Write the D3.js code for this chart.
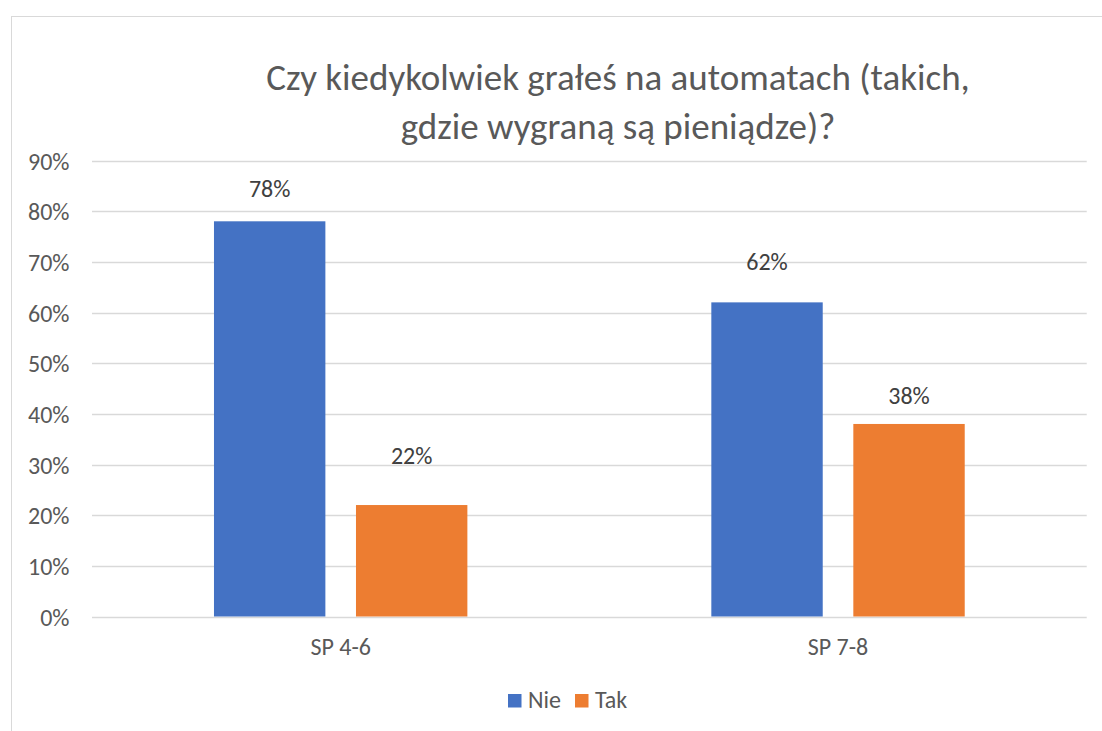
<!DOCTYPE html>
<html>
<head>
<meta charset="utf-8">
<script src="https://cdn.jsdelivr.net/npm/d3@7/dist/d3.min.js"></script>
<style>
  html, body { margin: 0; padding: 0; background: #ffffff; }
  svg { display: block; font-family: Carlito, Lato, "Liberation Sans", sans-serif; }
</style>
</head>
<body>
<svg id="chart" width="1102" height="731"></svg>
<script>
// Survey answers per school level
const categories = ["SP 4-6", "SP 7-8"];
const seriesNames = ["Nie", "Tak"];
const nieValues = [0.78, 0.62];
const takValues = [0.22, 0.38];
const yTicks = [0, 0.1, 0.2, 0.3, 0.4, 0.5, 0.6, 0.7, 0.8, 0.9];
const titleLines = ["Czy kiedykolwiek grałeś na automatach (takich,", "gdzie wygraną są pieniądze)?"];

// Layout
const colors = { Nie: "#4472C4", Tak: "#ED7D31" };
const plot = { left: 92, right: 1086.7, top: 160.5, bottom: 616.5 };
// Vertical lift of each value label above its bar (per category, per series)
const labelLift = { Nie: [24, 32], Tak: [41, 20] };
const labelSize = "24px";

const svg = d3.select("#chart");

// Chart frame
svg.append("rect")
  .attr("x", 11.5).attr("y", 16.5)
  .attr("width", 1200).attr("height", 800)
  .attr("fill", "#ffffff")
  .attr("stroke", "#d9d9d9").attr("stroke-width", 1);

const y = d3.scaleLinear().domain([0, 0.9]).range([plot.bottom, plot.top]);
const x0 = d3.scaleBand().domain(categories).range([plot.left, plot.right]).padding(0);
const x1 = d3.scaleBand().domain(seriesNames).range([0, x0.bandwidth()])
  .paddingInner(0.2155).paddingOuter(0.859);

// Gridlines
svg.append("g")
  .selectAll("line")
  .data(yTicks)
  .join("line")
  .attr("x1", plot.left).attr("x2", plot.right)
  .attr("y1", d => Math.round(y(d)) + 0.5).attr("y2", d => Math.round(y(d)) + 0.5)
  .attr("stroke", "#d9d9d9").attr("stroke-width", 1.3);

// Y axis labels
const yAxis = d3.axisLeft(y).tickValues(yTicks).tickFormat(d3.format(".0%")).tickSize(0).tickPadding(0);
const yg = svg.append("g").attr("transform", "translate(69.5,0)").call(yAxis);
yg.select(".domain").remove();
yg.selectAll("text")
  .attr("fill", "#595959")
  .style("font-size", labelSize)
  .style("font-family", "Carlito, Lato, sans-serif")
  .attr("dy", "0.36em");

// Category axis labels
const xAxis = d3.axisBottom(x0).tickSize(0).tickPadding(0);
const xg = svg.append("g").attr("transform", `translate(0,${plot.bottom})`).call(xAxis);
xg.select(".domain").remove();
xg.selectAll("text")
  .attr("fill", "#595959")
  .attr("dy", null)
  .attr("y", 38.5)
  .style("font-size", labelSize)
  .style("font-family", "Carlito, Lato, sans-serif");

// Bars and value labels
const rows = categories.map((c, i) => ({ category: c, Nie: nieValues[i], Tak: takValues[i], idx: i }));
const groups = svg.append("g").selectAll("g")
  .data(rows)
  .join("g")
  .attr("transform", d => `translate(${x0(d.category)},0)`);

const cells = groups.selectAll("g")
  .data(d => seriesNames.map(s => ({ series: s, value: d[s], idx: d.idx })))
  .join("g");

cells.append("rect")
  .attr("x", d => x1(d.series))
  .attr("width", x1.bandwidth())
  .attr("y", d => y(d.value))
  .attr("height", d => y(0) - y(d.value))
  .attr("fill", d => colors[d.series]);

cells.append("text")
  .attr("x", d => x1(d.series) + x1.bandwidth() / 2)
  .attr("y", d => y(d.value) - labelLift[d.series][d.idx])
  .attr("text-anchor", "middle")
  .attr("fill", "#404040")
  .style("font-size", labelSize)
  .text(d => d3.format(".0%")(d.value));

// Title
svg.append("text")
  .attr("text-anchor", "middle")
  .attr("fill", "#595959")
  .style("font-size", "37px")
  .selectAll("tspan")
  .data(titleLines)
  .join("tspan")
  .attr("x", 618)
  .attr("y", (d, i) => 90 + i * 49)
  .text(d => d);

// Legend
const legend = svg.append("g").attr("transform", "translate(508,694)");
const legendItems = legend.selectAll("g")
  .data(seriesNames)
  .join("g")
  .attr("transform", (d, i) => `translate(${i * 67},0)`);
legendItems.append("rect")
  .attr("width", 13.5).attr("height", 13.5)
  .attr("fill", d => colors[d]);
legendItems.append("text")
  .attr("x", 20).attr("y", 13.5)
  .attr("fill", "#595959")
  .style("font-size", labelSize)
  .text(d => d);
</script>
</body>
</html>
